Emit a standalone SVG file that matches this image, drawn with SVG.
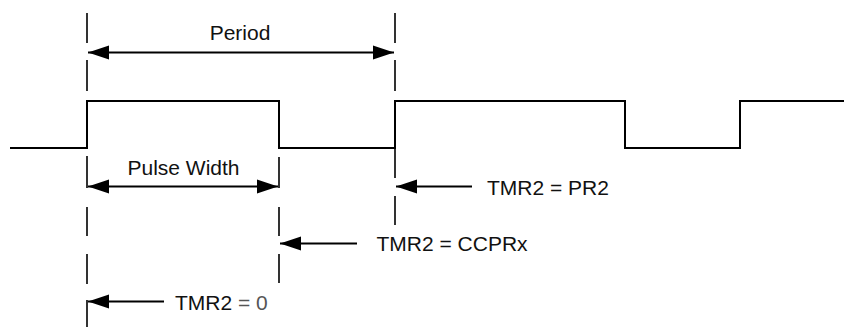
<svg xmlns="http://www.w3.org/2000/svg" width="844" height="327" viewBox="0 0 844 327">
<style>
.wave{fill:none;stroke:#000;stroke-width:2}
.guide{fill:none;stroke:#000;stroke-width:1.6}
.arr{fill:none;stroke:#000;stroke-width:2}
.lbl{font-family:"Liberation Sans",Arial,sans-serif;font-size:21px;fill:#111}
.light{fill:#555}
</style>
<defs>
<marker id="ah" markerUnits="userSpaceOnUse" markerWidth="22" markerHeight="16" refX="21" refY="7.5" orient="auto-start-reverse" viewBox="0 0 22 16">
<polygon points="0,0.5 21,7.5 0,14.5" fill="#000"/>
</marker>
</defs>
<rect width="844" height="327" fill="#fff"/>
<g id="waveform">
<polyline class="wave" points="10,148 87,148 87,101 279,101 279,148 395,148 395,101 625,101 625,148 740,148 740,101 844,101"/>
</g>
<g id="guides">
<path class="guide" d="M87,13V43M87,60V91M87,156V188M87,207V236M87,254V284M87,300V327"/>
<path class="guide" d="M279,157V188M279,207V236M279,254V283"/>
<path class="guide" d="M395,13V43M395,60V91M395,148V178M395,196V225"/>
</g>
<g id="connectors">
<line class="arr" x1="88" y1="52.5" x2="394" y2="52.5" marker-start="url(#ah)" marker-end="url(#ah)"/>
<line class="arr" x1="88" y1="186.5" x2="278" y2="186.5" marker-start="url(#ah)" marker-end="url(#ah)"/>
<line class="arr" x1="472" y1="186.5" x2="396" y2="186.5" marker-end="url(#ah)"/>
<line class="arr" x1="357" y1="243.5" x2="280" y2="243.5" marker-end="url(#ah)"/>
<line class="arr" x1="164" y1="301.5" x2="88" y2="301.5" marker-end="url(#ah)"/>
</g>
<g id="label-period"><text class="lbl" x="240" y="40" text-anchor="middle">Period</text></g>
<g id="label-pulse"><text class="lbl" x="183.5" y="175" text-anchor="middle">Pulse Width</text></g>
<g id="label-pr2"><text class="lbl" x="487" y="194.5">TMR2 = PR2</text></g>
<g id="label-ccprx"><text class="lbl" x="376.5" y="251">TMR2 = CCPRx</text></g>
<g id="label-zero"><text class="lbl" x="175" y="309.5">TMR2 <tspan class="light">= 0</tspan></text></g>
</svg>
